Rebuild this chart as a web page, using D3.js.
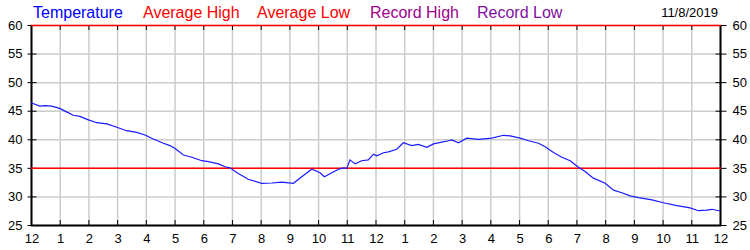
<!DOCTYPE html>
<html>
<head>
<meta charset="utf-8">
<script src="https://cdn.jsdelivr.net/npm/d3@7"></script>
<style>
  body { margin: 0; background: #fff; }
  svg { display: block; font-family: "Liberation Sans", Arial, sans-serif; }
</style>
</head>
<body>
<div id="chart"></div>
<script>
// Data
var hourTicks = d3.range(0, 25);
var hourLabels = ["12", "1", "2", "3", "4", "5", "6", "7", "8", "9", "10", "11",
  "12", "1", "2", "3", "4", "5", "6", "7", "8", "9", "10", "11", "12"];
var tempTicks = [25, 30, 35, 40, 45, 50, 55, 60];

var tempHours = [0, 0.31, 0.49, 0.72, 1.0, 1.24, 1.47, 1.7, 2.0, 2.29, 2.64, 2.99,
  3.33, 3.68, 3.97, 4.26, 4.61, 4.84, 5.02, 5.31, 5.6, 5.95, 6.18, 6.53, 6.76, 6.93,
  7.22, 7.57, 8.04, 8.39, 8.73, 9.14, 9.43, 9.78, 10.07, 10.22, 10.48, 10.71, 10.88,
  11.0, 11.11, 11.29, 11.52, 11.75, 11.93, 12.04, 12.28, 12.45, 12.74, 12.97, 13.26,
  13.49, 13.79, 14.02, 14.31, 14.54, 14.66, 14.89, 15.18, 15.59, 16.05, 16.46, 16.69,
  17.04, 17.33, 17.68, 17.91, 18.2, 18.49, 18.78, 19.07, 19.3, 19.59, 20.0, 20.29,
  20.58, 20.87, 21.16, 21.63, 22.03, 22.5, 22.96, 23.25, 23.54, 23.72, 24.0];
var tempValues = [46.4, 45.8, 45.9, 45.8, 45.4, 44.8, 44.2, 44.0, 43.4, 42.9, 42.7, 42.1,
  41.5, 41.2, 40.75, 40.05, 39.3, 38.9, 38.4, 37.25, 36.85, 36.25, 36.1, 35.7, 35.2, 35.0,
  34.0, 33.0, 32.3, 32.35, 32.5, 32.3, 33.45, 34.75, 34.15, 33.45, 34.15, 34.75, 35.0,
  34.9, 36.4, 35.7, 36.25, 36.4, 37.4, 37.1, 37.65, 37.8, 38.25, 39.4, 38.9,
  39.1, 38.6, 39.2, 39.5, 39.75, 39.9, 39.4, 40.2, 40.0, 40.2, 40.7, 40.6,
  40.2, 39.75, 39.3, 38.7, 37.7, 36.85, 36.25, 35.1, 34.35, 33.2, 32.3, 31.1,
  30.65, 30.1, 29.8, 29.4, 28.9, 28.4, 28.0, 27.5, 27.6, 27.75, 27.45];

var avgHigh = 60;
var avgLow = 35;

var legendNames = ["Temperature", "Average High", "Average Low", "Record High", "Record Low"];
var legendColors = ["#0000ff", "#ff0000", "#ff0000", "#a0008c", "#8010a0"];
var legendX = [33, 143, 257, 370, 477];
var dateLabel = "11/8/2019";

function drawChart() {
  var width = 750, height = 250;
  var left = 31, right = 720, plotTop = 25, bottom = 225;

  var svg = d3.select("#chart").append("svg")
    .attr("width", width)
    .attr("height", height);

  var x = d3.scaleLinear().domain([0, 24]).range([left, right]);
  var y = d3.scaleLinear().domain([25, 60]).range([bottom, plotTop]);

  // grid
  svg.append("g")
    .selectAll("line")
    .data(hourTicks)
    .enter().append("line")
    .attr("x1", d => x(d) + 0.5).attr("x2", d => x(d) + 0.5)
    .attr("y1", plotTop).attr("y2", bottom)
    .attr("stroke", "#cccccc").attr("stroke-width", 1.5);

  svg.append("g")
    .selectAll("line")
    .data(tempTicks)
    .enter().append("line")
    .attr("x1", left).attr("x2", right)
    .attr("y1", d => y(d) + 0.5).attr("y2", d => y(d) + 0.5)
    .attr("stroke", "#cccccc").attr("stroke-width", 1.5);

  // tick marks on x (inside, top and bottom)
  var xTicks = svg.append("g").attr("stroke", "#000").attr("stroke-width", 1);
  hourTicks.forEach(function(d) {
    xTicks.append("line")
      .attr("x1", x(d) + 0.5).attr("x2", x(d) + 0.5)
      .attr("y1", plotTop).attr("y2", plotTop + 5);
    xTicks.append("line")
      .attr("x1", x(d) + 0.5).attr("x2", x(d) + 0.5)
      .attr("y1", bottom - 5).attr("y2", bottom);
  });

  // left and right axes, ticks crossing the axis line
  var yLeft = d3.axisLeft(y).tickValues(tempTicks).tickSizeInner(-5).tickSizeOuter(0).tickPadding(9);
  var gl = svg.append("g").attr("transform", "translate(" + (left + 0.5) + ",0)").call(yLeft);
  gl.select(".domain").remove();
  gl.selectAll(".tick line").clone().attr("x2", -4);

  var yRight = d3.axisRight(y).tickValues(tempTicks).tickSizeInner(-5).tickSizeOuter(0).tickPadding(12);
  var gr = svg.append("g").attr("transform", "translate(" + (right + 0.5) + ",0)").call(yRight);
  gr.select(".domain").remove();
  gr.selectAll(".tick line").clone().attr("x2", 6);

  [gl, gr].forEach(function(g) {
    g.selectAll(".tick line").attr("stroke", "#000");
    g.selectAll(".tick text")
      .attr("fill", "#000")
      .style("font-size", "13px")
      .style("font-family", "'Liberation Sans', Arial, sans-serif");
  });

  // hour labels
  svg.append("g")
    .selectAll("text")
    .data(hourTicks)
    .enter().append("text")
    .attr("x", d => x(d) + 1)
    .attr("y", 243)
    .attr("text-anchor", "middle")
    .style("font-size", "13px")
    .attr("fill", "#000")
    .text((d, i) => hourLabels[i]);

  // frame
  svg.append("line")
    .attr("x1", left + 0.5).attr("x2", left + 0.5)
    .attr("y1", plotTop).attr("y2", bottom + 1)
    .attr("stroke", "#000").attr("stroke-width", 2);
  svg.append("line")
    .attr("x1", right + 0.5).attr("x2", right + 0.5)
    .attr("y1", plotTop).attr("y2", bottom + 1)
    .attr("stroke", "#000").attr("stroke-width", 2);
  svg.append("line")
    .attr("x1", left).attr("x2", right + 1)
    .attr("y1", bottom + 0.5).attr("y2", bottom + 0.5)
    .attr("stroke", "#000").attr("stroke-width", 2);

  // average lines
  [avgHigh, avgLow].forEach(function(v) {
    svg.append("line")
      .attr("x1", left).attr("x2", right + 1)
      .attr("y1", y(v) + 0.5).attr("y2", y(v) + 0.5)
      .attr("stroke", "#ff0000").attr("stroke-width", 1.5);
  });

  // temperature
  var line = d3.line()
    .x((d, i) => x(tempHours[i]))
    .y(d => y(d));

  svg.append("path")
    .datum(tempValues)
    .attr("d", line)
    .attr("fill", "none")
    .attr("stroke", "#1a1aff")
    .attr("stroke-width", 1.2);

  // legend
  svg.append("g")
    .selectAll("text")
    .data(legendNames)
    .enter().append("text")
    .attr("x", (d, i) => legendX[i])
    .attr("y", 18)
    .style("font-size", "16px")
    .attr("fill", (d, i) => legendColors[i])
    .text(d => d);

  svg.append("text")
    .attr("x", 718)
    .attr("y", 17)
    .attr("text-anchor", "end")
    .style("font-size", "13px")
    .attr("fill", "#000")
    .text(dateLabel);
}

drawChart();
</script>
</body>
</html>
